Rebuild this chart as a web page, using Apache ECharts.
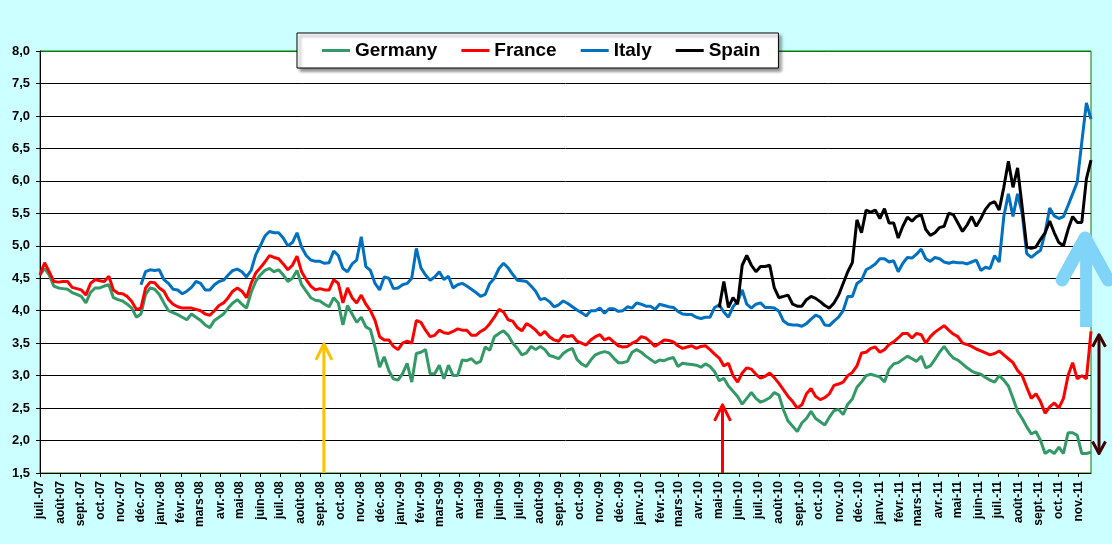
<!DOCTYPE html>
<html>
<head>
<meta charset="utf-8">
<title>Taux à 10 ans</title>
<script src="https://cdn.jsdelivr.net/npm/echarts/dist/echarts.min.js"></script>
<style>
  html, body { margin: 0; padding: 0; background: #ccffff; }
  #chart { width: 1112px; height: 544px; }
</style>
</head>
<body>
<div id="chart"></div>
<script>
// weekly readings, one value every 7 days from 1 July 2007
var firstDay = Date.UTC(2007, 6, 1);
var dayCount = 1604;
var weekStep = 7;
var monthLabels = ['janv.', 'févr.', 'mars', 'avr.', 'mai', 'juin', 'juil.', 'août', 'sept.', 'oct.', 'nov.', 'déc.'];
var yTicks = [1.5, 8.0, 0.5]; // min, max, step

var germany = [
    4.55, 4.65, 4.55, 4.38, 4.35, 4.34, 4.33, 4.28, 4.25, 4.22,
    4.12, 4.28, 4.35, 4.35, 4.38, 4.40, 4.20, 4.17, 4.15, 4.10,
    4.04, 3.90, 3.95, 4.25, 4.35, 4.33, 4.25, 4.12, 4.00, 3.97,
    3.94, 3.90, 3.86, 3.95, 3.90, 3.85, 3.78, 3.74, 3.85, 3.90,
    3.95, 4.04, 4.12, 4.17, 4.10, 4.04, 4.28, 4.45, 4.55, 4.62,
    4.65, 4.60, 4.63, 4.55, 4.45, 4.50, 4.62, 4.40, 4.30, 4.20,
    4.16, 4.15, 4.10, 4.06, 4.20, 4.12, 3.78, 4.08, 3.95, 3.82,
    3.90, 3.75, 3.71, 3.44, 3.13, 3.29, 3.08, 2.95, 2.93, 3.03,
    3.19, 2.90, 3.34, 3.36, 3.40, 3.03, 3.03, 3.16, 2.95, 3.16,
    3.00, 3.00, 3.24, 3.23, 3.26, 3.19, 3.22, 3.44, 3.39, 3.60,
    3.65, 3.69, 3.62, 3.50, 3.42, 3.32, 3.35, 3.45, 3.40, 3.45,
    3.40, 3.31, 3.29, 3.26, 3.34, 3.39, 3.42, 3.25, 3.18, 3.14,
    3.24, 3.32, 3.35, 3.37, 3.35, 3.27, 3.20, 3.20, 3.22, 3.36,
    3.40, 3.36, 3.30, 3.25, 3.20, 3.24, 3.23, 3.26, 3.28, 3.14,
    3.19, 3.18, 3.17, 3.16, 3.13, 3.18, 3.14, 3.06, 2.92, 2.96,
    2.84, 2.76, 2.68, 2.56, 2.65, 2.74, 2.65, 2.59, 2.62, 2.66,
    2.74, 2.70, 2.47, 2.30, 2.22, 2.14, 2.27, 2.34, 2.45, 2.34,
    2.29, 2.24, 2.36, 2.46, 2.48, 2.40, 2.56, 2.64, 2.82, 2.90,
    3.00, 3.02, 3.00, 2.98, 2.90, 3.10, 3.18, 3.20, 3.25, 3.30,
    3.26, 3.22, 3.30, 3.12, 3.15, 3.25, 3.36, 3.45, 3.35, 3.27,
    3.24, 3.18, 3.12, 3.07, 3.04, 3.02, 2.97, 2.93, 2.90, 3.00,
    2.93, 2.84, 2.65, 2.45, 2.34, 2.21, 2.10, 2.14, 2.00, 1.80,
    1.85, 1.80, 1.90, 1.80, 2.12, 2.12, 2.08, 1.80, 1.80, 1.82
];

var france = [
    4.55, 4.74, 4.60, 4.45, 4.44, 4.45, 4.45, 4.36, 4.34, 4.32,
    4.24, 4.42, 4.48, 4.46, 4.45, 4.53, 4.32, 4.27, 4.26, 4.22,
    4.14, 4.02, 4.04, 4.35, 4.44, 4.43, 4.35, 4.30, 4.17, 4.10,
    4.06, 4.04, 4.04, 4.04, 4.02, 4.00, 3.95, 3.93, 4.00, 4.08,
    4.12, 4.20, 4.30, 4.35, 4.30, 4.20, 4.42, 4.58, 4.66, 4.75,
    4.85, 4.82, 4.80, 4.72, 4.63, 4.70, 4.84, 4.60, 4.48, 4.38,
    4.32, 4.34, 4.32, 4.32, 4.48, 4.42, 4.12, 4.35, 4.20, 4.12,
    4.24, 4.10, 4.00, 3.85, 3.60, 3.55, 3.55, 3.45, 3.40, 3.50,
    3.53, 3.50, 3.85, 3.82, 3.70, 3.60, 3.62, 3.70, 3.66, 3.65,
    3.68, 3.72, 3.70, 3.70, 3.62, 3.62, 3.68, 3.72, 3.80, 3.90,
    4.02, 3.98, 3.86, 3.84, 3.74, 3.69, 3.80, 3.76, 3.70, 3.62,
    3.68, 3.60, 3.55, 3.53, 3.62, 3.60, 3.62, 3.53, 3.50, 3.47,
    3.55, 3.60, 3.63, 3.55, 3.58, 3.52, 3.46, 3.44, 3.45, 3.50,
    3.53, 3.60, 3.58, 3.52, 3.45, 3.50, 3.55, 3.54, 3.52, 3.46,
    3.42, 3.44, 3.46, 3.42, 3.45, 3.46, 3.40, 3.33, 3.27, 3.15,
    3.19, 3.00, 2.90, 3.04, 3.12, 3.10, 3.02, 2.96, 2.99, 3.04,
    2.97, 2.88, 2.78, 2.68, 2.60, 2.50, 2.55, 2.72, 2.80, 2.68,
    2.63, 2.66, 2.72, 2.85, 2.87, 2.90, 3.00, 3.05, 3.15, 3.35,
    3.36, 3.42, 3.44, 3.36, 3.40, 3.48, 3.52, 3.58, 3.65, 3.65,
    3.58, 3.65, 3.63, 3.50, 3.60, 3.67, 3.72, 3.77, 3.70, 3.64,
    3.60, 3.50, 3.48, 3.45, 3.41, 3.38, 3.35, 3.32, 3.34, 3.38,
    3.32, 3.26, 3.20, 3.08, 3.00, 2.82, 2.65, 2.72, 2.60, 2.42,
    2.52, 2.58, 2.50, 2.65, 3.00, 3.20, 2.95, 3.00, 2.95, 3.68
];

var italyStartWeek = 22;
var italy = [
    4.40, 4.60, 4.63, 4.62, 4.63, 4.48, 4.42, 4.33,
    4.32, 4.26, 4.30, 4.36, 4.45, 4.42, 4.32, 4.32, 4.40, 4.45,
    4.47, 4.55, 4.62, 4.64, 4.60, 4.52, 4.62, 4.86, 5.00, 5.15,
    5.22, 5.20, 5.20, 5.12, 5.00, 5.05, 5.20, 4.98, 4.85, 4.78,
    4.76, 4.76, 4.73, 4.74, 4.92, 4.85, 4.65, 4.60, 4.72, 4.78,
    5.14, 4.68, 4.62, 4.42, 4.32, 4.52, 4.50, 4.34, 4.35, 4.40,
    4.42, 4.50, 4.96, 4.66, 4.55, 4.47, 4.52, 4.60, 4.48, 4.53,
    4.35, 4.40, 4.42, 4.38, 4.33, 4.28, 4.22, 4.25, 4.42, 4.50,
    4.65, 4.73, 4.66, 4.56, 4.47, 4.46, 4.45, 4.38, 4.30, 4.17,
    4.19, 4.14, 4.06, 4.09, 4.15, 4.11, 4.06, 4.01, 3.97, 3.92,
    4.00, 4.00, 4.04, 3.96, 4.03, 4.03, 3.99, 4.00, 4.06, 4.04,
    4.12, 4.10, 4.07, 4.07, 4.02, 4.10, 4.08, 4.06, 4.05, 3.99,
    3.95, 3.94, 3.94, 3.90, 3.88, 3.90, 3.90, 4.05, 4.09, 3.98,
    3.90, 4.06, 4.14, 4.32, 4.10, 4.04, 4.10, 4.12, 4.05, 4.05,
    4.04, 3.99, 3.84, 3.79, 3.78, 3.78, 3.76, 3.80, 3.87, 3.93,
    3.90, 3.78, 3.77, 3.84, 3.90, 4.00, 4.22, 4.22, 4.42, 4.47,
    4.63, 4.67, 4.72, 4.80, 4.80, 4.75, 4.77, 4.60, 4.73, 4.82,
    4.81, 4.87, 4.95, 4.80, 4.76, 4.82, 4.80, 4.75, 4.73, 4.75,
    4.74, 4.74, 4.72, 4.75, 4.78, 4.62, 4.67, 4.65, 4.85, 4.75,
    5.45, 5.80, 5.45, 5.80, 5.50, 4.88, 4.82, 4.88, 4.93, 5.20,
    5.58, 5.46, 5.42, 5.45, 5.62, 5.80, 5.98, 6.60, 7.20, 6.95
];

var spainStartWeek = 148;
var spain = [
    4.05, 4.45,
    4.05, 4.20, 4.10, 4.70, 4.85, 4.70, 4.60, 4.68, 4.68, 4.70,
    4.35, 4.20, 4.22, 4.24, 4.10, 4.07, 4.07, 4.17, 4.22, 4.19,
    4.14, 4.08, 4.04, 4.12, 4.24, 4.42, 4.60, 4.74, 5.40, 5.20,
    5.55, 5.52, 5.55, 5.42, 5.57, 5.35, 5.35, 5.12, 5.30, 5.44,
    5.38, 5.45, 5.48, 5.25, 5.16, 5.20, 5.28, 5.30, 5.50, 5.48,
    5.35, 5.22, 5.32, 5.45, 5.30, 5.42, 5.56, 5.65, 5.68, 5.55,
    5.90, 6.30, 5.90, 6.20, 5.60, 4.98, 4.96, 4.98, 5.10, 5.20,
    5.38, 5.20, 5.05, 5.00, 5.25, 5.45, 5.36, 5.36, 6.03, 6.32
];

// annotation arrows: day index from 1 July 2007, start value, end value
var yellowArrow = { day: 433, from: 1.5, to: 3.49 };
var redArrow = { day: 1041, from: 1.5, to: 2.55 };
var blueArrow = { day: 1594, from: 3.75, to: 5.12 };
var spreadArrow = { day: 1603, from: 1.80, to: 3.63 };

var days = [];
for (var d = 0; d < dayCount; d++) {
    days.push(new Date(firstDay + d * 86400000).toISOString().slice(0, 10));
}

function isMonthStart(index) {
    return days[index].slice(8) === '01';
}

function toSeries(values, startWeek) {
    return values.map(function (v, i) {
        return [days[(startWeek + i) * weekStep], v];
    });
}

function lineSeries(name, color, data) {
    return {
        name: name,
        type: 'line',
        data: data,
        showSymbol: false,
        symbol: 'none',
        connectNulls: true,
        lineStyle: { width: 3, color: color },
        itemStyle: { color: color }
    };
}

var splitColors = [];
for (var k = 0; k < 13; k++) splitColors.push('#000');
splitColors.push('#008000');

var chart = echarts.init(document.getElementById('chart'));
var font = 'Liberation Sans, Arial, sans-serif';

chart.setOption({
    animation: false,
    backgroundColor: '#ccffff',
    textStyle: { fontFamily: font },
    grid: {
        left: 40, right: 21, top: 51, bottom: 71,
        show: true,
        backgroundColor: '#fff',
        borderColor: '#008000',
        borderWidth: 1
    },
    legend: {
        left: 297, top: 33,
        data: ['Germany', 'France', 'Italy', 'Spain'],
        icon: 'rect',
        itemWidth: 28, itemHeight: 3,
        itemGap: 24,
        padding: [8, 18, 8, 25],
        backgroundColor: '#fff',
        borderColor: '#000',
        borderWidth: 1,
        shadowColor: 'rgba(0,0,0,0.45)',
        shadowBlur: 3,
        shadowOffsetX: 3,
        shadowOffsetY: 3,
        textStyle: { fontSize: 19, fontWeight: 'bold', color: '#000', fontFamily: font }
    },
    xAxis: {
        type: 'category',
        data: days,
        boundaryGap: false,
        axisLine: { lineStyle: { color: '#000', width: 1 } },
        axisTick: { interval: isMonthStart, length: 4, lineStyle: { color: '#000' } },
        axisLabel: {
            interval: isMonthStart,
            rotate: 90,
            margin: 8,
            fontSize: 12,
            fontWeight: 'bold',
            color: '#000',
            fontFamily: font,
            formatter: function (value) {
                return monthLabels[+value.slice(5, 7) - 1] + '-' + value.slice(2, 4);
            }
        },
        splitLine: { show: false }
    },
    yAxis: {
        type: 'value',
        min: yTicks[0], max: yTicks[1], interval: yTicks[2],
        axisLine: { show: true, lineStyle: { color: '#000', width: 1 } },
        axisTick: { show: true, length: 4, lineStyle: { color: '#000' } },
        axisLabel: {
            margin: 10,
            fontSize: 13,
            fontWeight: 'bold',
            color: '#000',
            fontFamily: font,
            formatter: function (v) { return v.toFixed(1).replace('.', ','); }
        },
        splitLine: { show: true, lineStyle: { color: splitColors, width: 1 } }
    },
    series: [
        lineSeries('Germany', '#339966', toSeries(germany, 0)),
        lineSeries('France', '#ff0000', toSeries(france, 0)),
        lineSeries('Italy', '#0070c0', toSeries(italy, italyStartWeek)),
        lineSeries('Spain', '#000000', toSeries(spain, spainStartWeek))
    ]
});

function px(day, v) {
    return chart.convertToPixel({ xAxisIndex: 0, yAxisIndex: 0 }, [days[day], v]);
}

function stroke(points, color, width, cap) {
    return {
        type: 'polyline',
        silent: true,
        z: 100,
        shape: { points: points },
        style: { stroke: color, lineWidth: width, fill: null, lineCap: cap || 'butt', lineJoin: 'round' }
    };
}

function upArrow(a, color) {
    var p0 = px(a.day, a.from), p1 = px(a.day, a.to);
    return [
        stroke([[p0[0], p0[1]], [p1[0], p1[1]]], color, 3),
        stroke([[p1[0] - 8, p1[1] + 16], [p1[0], p1[1]], [p1[0] + 8, p1[1] + 16]], color, 3)
    ];
}

var els = [];
els = els.concat(upArrow(yellowArrow, '#ffc000'));
els = els.concat(upArrow(redArrow, '#ff0000'));

// big light blue arrow
var bt = px(blueArrow.day, blueArrow.to), bb = px(blueArrow.day, blueArrow.from);
els.push(stroke([[bt[0] + 1, bt[1] + 6], [bt[0] + 1, bb[1]]], '#80d4f7', 12));
els.push(stroke([[bt[0] - 23, bt[1] + 42], [bt[0], bt[1]], [bt[0] + 23, bt[1] + 42]], '#80d4f7', 13, 'round'));

// double arrow beside the plot
var st = px(spreadArrow.day, spreadArrow.to), sb = px(spreadArrow.day, spreadArrow.from);
var sx = st[0] + 8;
var dark = '#3c0000';
els.push(stroke([[sx, st[1]], [sx, sb[1]]], dark, 3));
els.push(stroke([[sx - 6.5, st[1] + 12], [sx, st[1]], [sx + 6.5, st[1] + 12]], dark, 3));
els.push(stroke([[sx - 6.5, sb[1] - 12], [sx, sb[1]], [sx + 6.5, sb[1] - 12]], dark, 3));

chart.setOption({ graphic: els });
</script>
</body>
</html>
